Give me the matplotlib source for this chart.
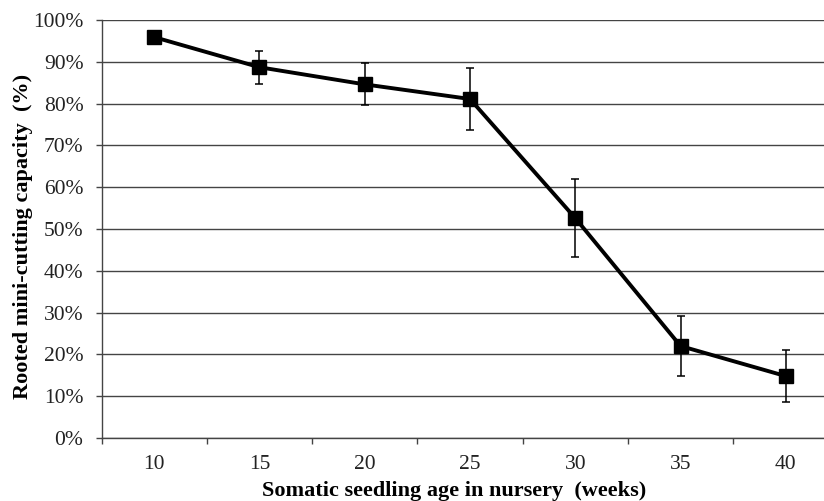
import matplotlib
matplotlib.use("Agg")
import matplotlib.pyplot as plt
from matplotlib.ticker import FixedLocator, PercentFormatter
import numpy as np

weeks = ["10", "15", "20", "25", "30", "35", "40"]
rooted = [95.9, 88.7, 84.6, 81.1, 52.6, 22.0, 14.8]
err = [1.2, 4.0, 5.0, 7.5, 9.4, 7.2, 6.2]

plt.rcParams['font.family'] = ['Liberation Serif', 'DejaVu Serif']

fig = plt.figure(figsize=(8.24, 5.01), dpi=100)
ax = fig.add_axes([101.5/824, 1 - 438/501, 737/824, 418/501])

x = np.arange(len(weeks))
ax.errorbar(x, rooted, yerr=err, color='black', lw=2.8, marker='s', ms=10.5,
            ecolor='black', elinewidth=1.1, capsize=2.8, capthick=1.1, zorder=3)

ax.set_xlim(-0.5, len(weeks) - 0.5)
ax.set_ylim(0, 100)
ax.set_yticks(np.arange(0, 101, 10))
ax.yaxis.set_major_formatter(PercentFormatter(decimals=0))
ax.yaxis.grid(True, color='#444444', lw=1.0)
ax.set_axisbelow(True)

ax.set_xticks(x)
ax.set_xticklabels(weeks)
ax.xaxis.set_minor_locator(FixedLocator(np.arange(-0.5, len(weeks), 1.0)))
ax.tick_params(axis='x', which='major', length=0, pad=12, labelsize=15.5, colors='#222222')
ax.tick_params(axis='x', which='minor', length=4, width=1, color='#444444', direction='out')
ax.tick_params(axis='y', which='major', length=4, width=1, color='#444444', pad=9, labelsize=15.5, labelcolor='#222222')

for s in ['top', 'right']:
    ax.spines[s].set_visible(False)
for s in ['left', 'bottom']:
    ax.spines[s].set_color('#444444')
    ax.spines[s].set_linewidth(1.0)

ax.set_xlabel("Somatic seedling age in nursery  (weeks)", fontsize=16, fontweight='bold')
ax.set_ylabel("Rooted mini-cutting capacity  (%)", fontsize=16, fontweight='bold')
ax.xaxis.set_label_coords((454 - 101.5) / 737, (438 - 481) / 418)
ax.yaxis.set_label_coords((33 - 101.5) / 737, (438 - 236) / 418)

fig.savefig("out.png", dpi=100)
